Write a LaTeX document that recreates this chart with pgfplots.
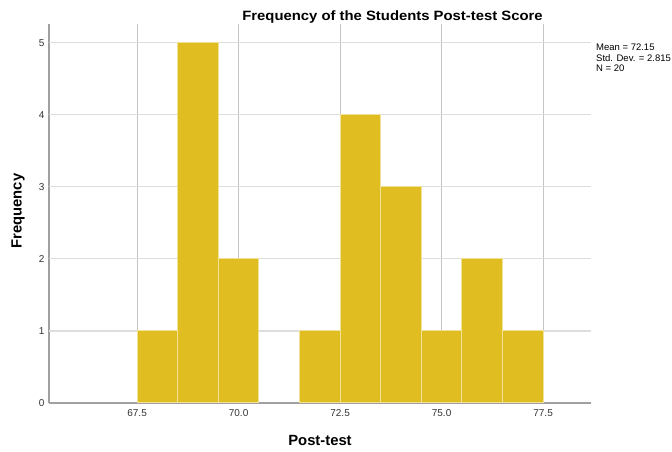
\documentclass[border=0pt]{standalone}
\usepackage{pgfplots}
\pgfplotsset{compat=1.18}
\usepackage{fontspec}
\setmainfont{Liberation Sans}
\definecolor{barc}{RGB}{224,189,33}
\definecolor{hgrid}{RGB}{221,221,221}
\definecolor{vgrid}{RGB}{196,196,196}
\definecolor{axc}{RGB}{160,160,160}
\begin{document}
\begin{tikzpicture}[x=1pt,y=1pt]
\useasboundingbox (0,0) rectangle (672,452);
\begin{axis}[
  at={(49pt,49pt)}, anchor=south west,
  width=542pt, height=379pt, scale only axis,
  xmin=65.33, xmax=78.68, ymin=0, ymax=5.26,
  axis x line=bottom, axis y line=left,
  axis line style={axc, line width=1.2pt, -},
  xtick={67.5,70,72.5,75,77.5},
  xticklabels={67.5,70.0,72.5,75.0,77.5},
  ytick={0,1,2,3,4,5},
  major tick length=0pt,
  /pgf/number format/assume math mode=true,
  tick label style={font=\fontsize{10}{11}\selectfont, text=black!80},
  xticklabel style={yshift=-3pt},
  yticklabel style={xshift=-1pt},
  extra y ticks={1,2,3,4,5}, extra y tick labels={},
  extra y tick style={grid=major, major grid style={hgrid, line width=1.2pt}},
  xmajorgrids, major grid style={vgrid, line width=0.9pt},
  axis on top=false,
  clip=false,
]
\addplot[ybar, bar width=1, fill=barc, draw=white!55!barc, line width=1pt] coordinates {
 (68,1) (69,5) (70,2) (72,1) (73,4) (74,3) (75,1) (76,2) (77,1)
};
\end{axis}
\node[font=\bfseries\fontsize{13.5}{15}\selectfont, anchor=base, inner sep=0pt] at (392.5,431) {\scalebox{1.1}[1]{Frequency of the Students Post-test Score}};
\node[font=\bfseries\fontsize{14.8}{16}\selectfont, anchor=base] at (320,6) {Post-test};
\node[font=\bfseries\fontsize{14.8}{16}\selectfont, rotate=90] at (18,241) {Frequency};
\node[font=\fontsize{9.5}{10.5}\selectfont, anchor=north west, align=left, inner sep=0pt] at (596,408) {Mean = 72.15\\Std. Dev. = 2.815\\N = 20};
\end{tikzpicture}
\end{document}
